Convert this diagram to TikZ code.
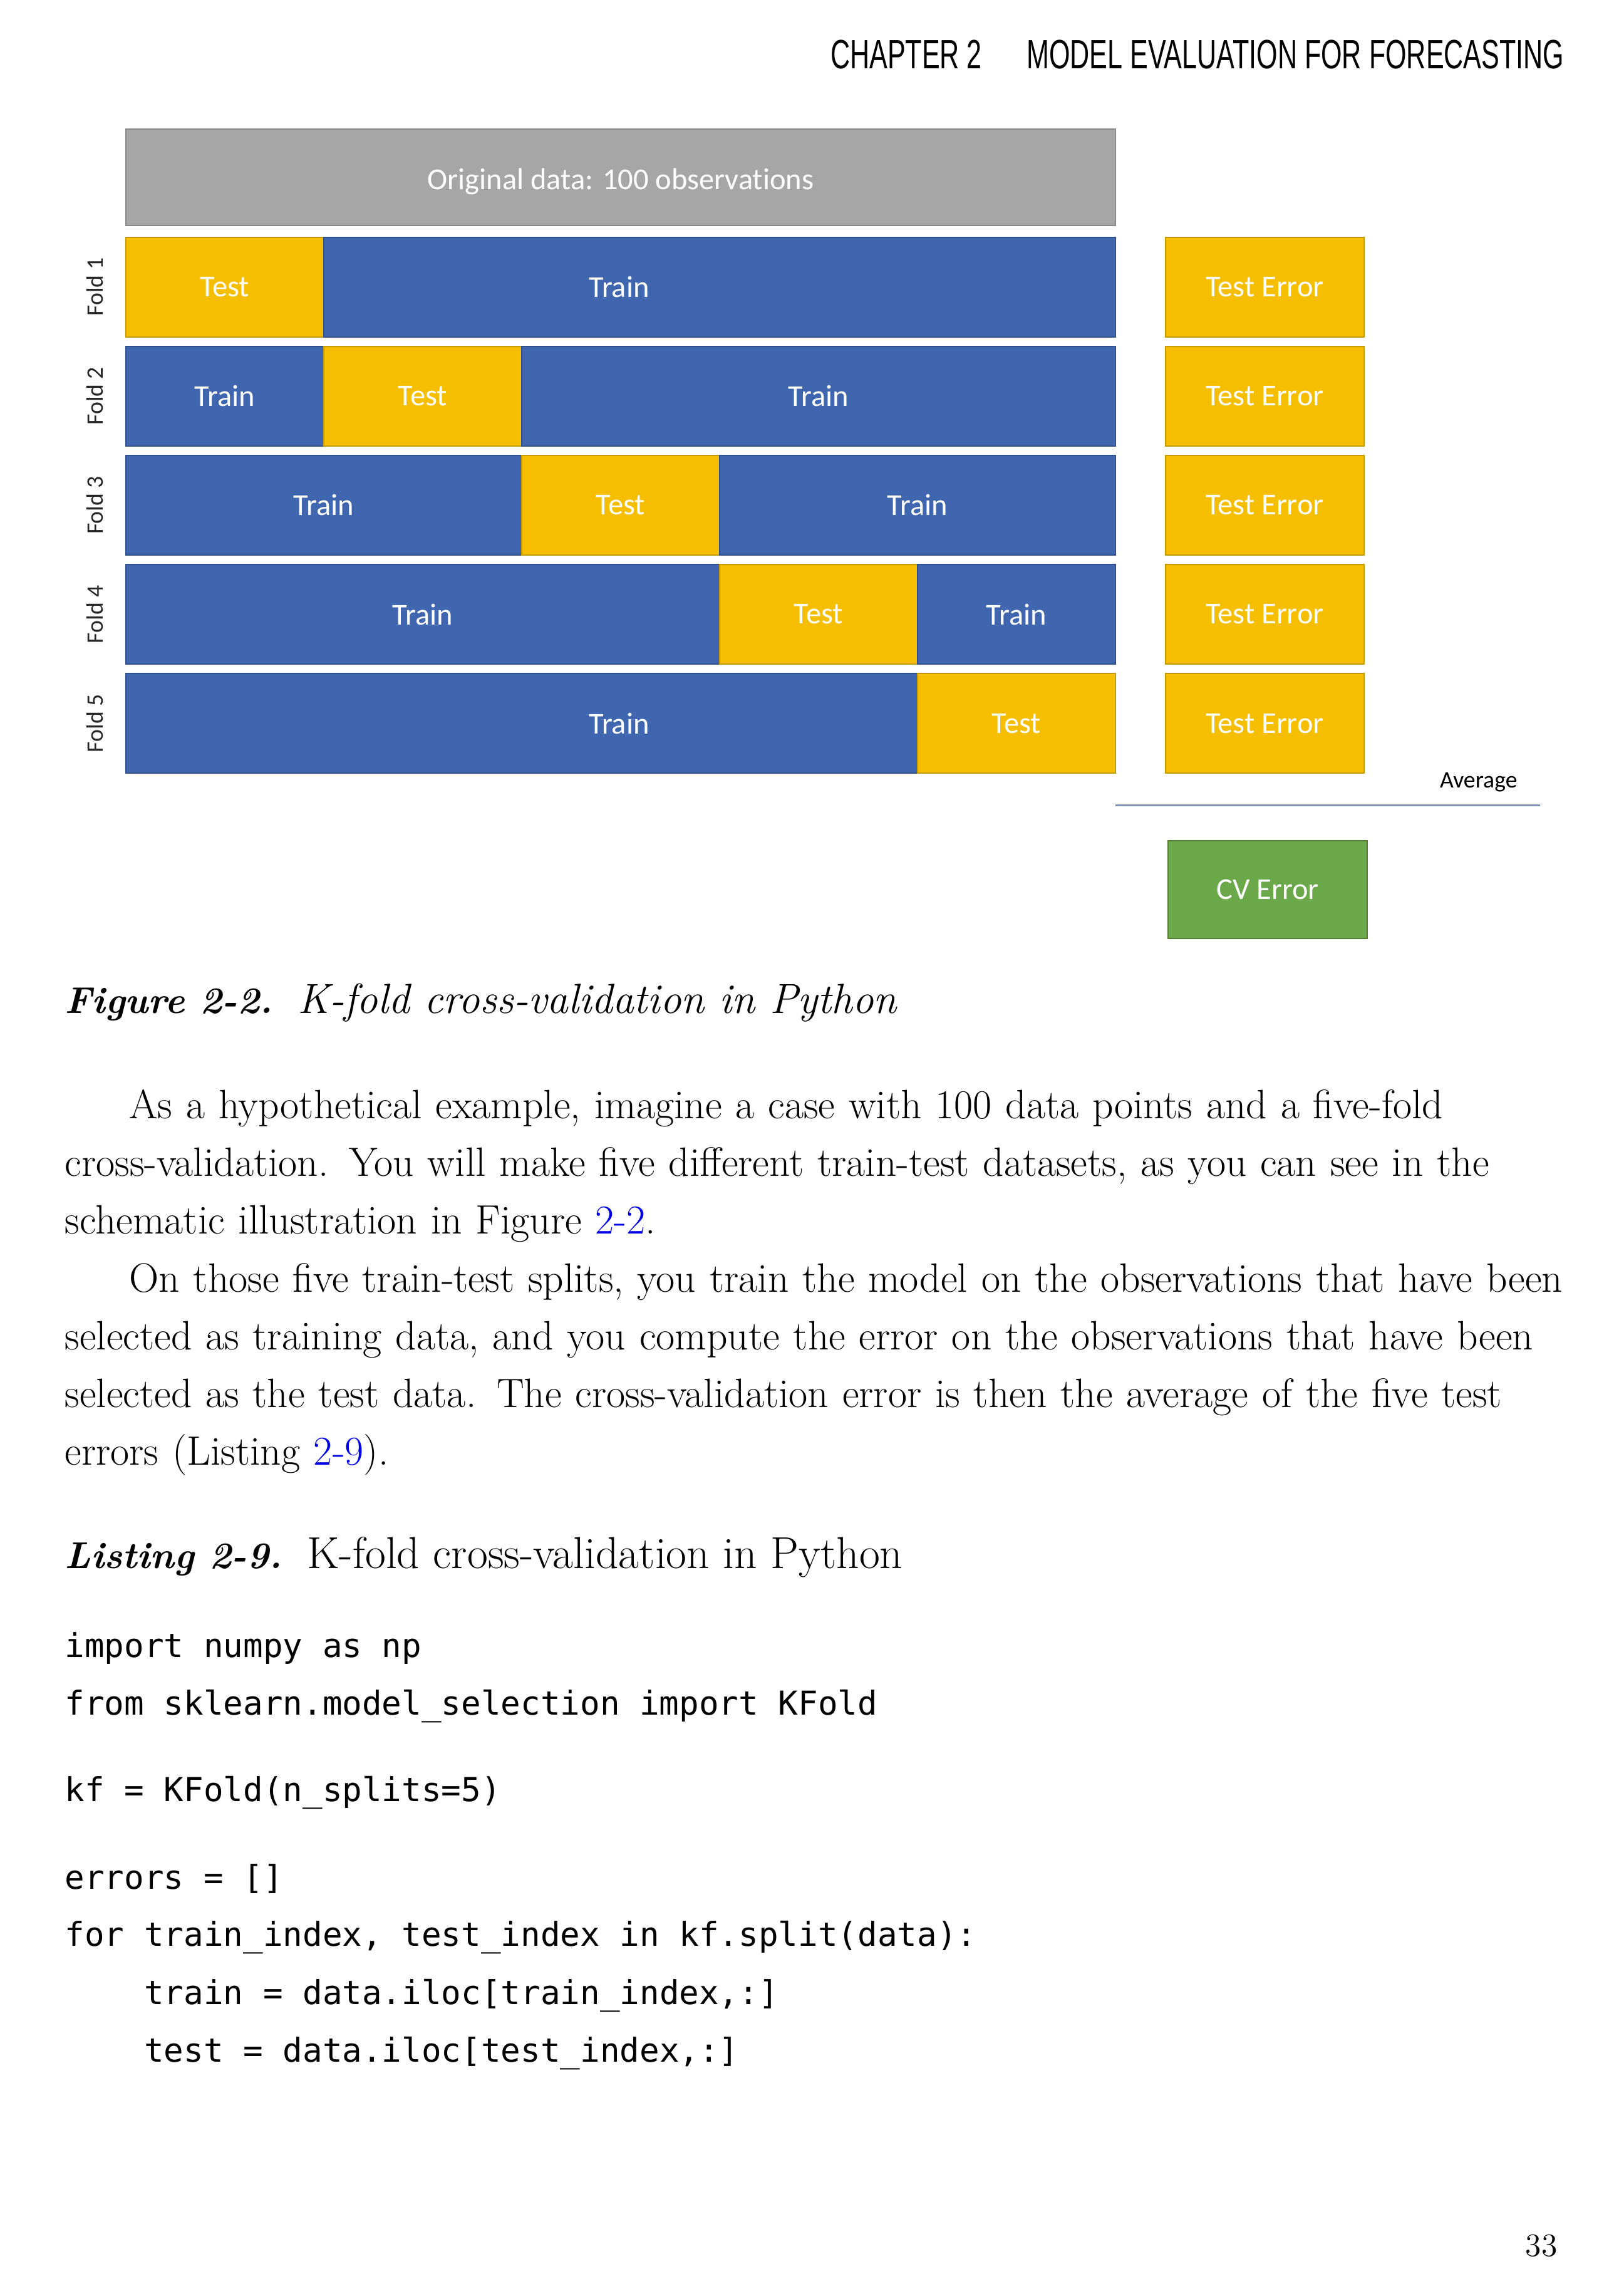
\documentclass[tikz,border=0pt]{standalone}
\usepackage{fontspec}
\newfontfamily\calibri[Ligatures=CommonOff]{Carlito}
\newfontfamily\headfont[FakeStretch=0.66]{Liberation Sans}
\newfontfamily\codefont{DejaVu Sans Mono}
\usetikzlibrary{positioning}
\definecolor{trainblue}{HTML}{3F66AE}
\definecolor{trainedge}{HTML}{2F528F}
\definecolor{testgold}{HTML}{F5BE00}
\definecolor{testedge}{HTML}{C49A00}
\definecolor{datagray}{HTML}{A6A6A6}
\definecolor{dataedge}{HTML}{8A8A8A}
\definecolor{cvgreen}{HTML}{6AA84A}
\definecolor{cvedge}{HTML}{507E32}
\definecolor{avgline}{HTML}{7F91B5}
\definecolor{refblue}{HTML}{0000E6}
\newcommand\capbi[1]{{\fontsize{14.5}{18}\selectfont\bfseries\itshape #1}\hspace{0.34cm}}

\begin{document}
\begin{tikzpicture}[x=0.02cm,y=-0.02cm,
  cell/.style={anchor=north west,inner sep=0pt,outer sep=0pt,minimum height=1.36cm,
    line width=0.5pt,text=white,font=\calibri\fontsize{11.8}{14}\selectfont},
  trainbox/.style={cell,fill=trainblue,draw=trainedge,minimum width=#1*2.704cm},
  trainbox/.default=1,
  testbox/.style={cell,fill=testgold,draw=testedge,minimum width=2.704cm},
  errbox/.style={testbox,minimum width=2.72cm},
  cvbox/.style={cell,fill=cvgreen,draw=cvedge,minimum width=2.72cm,minimum height=1.34cm},
  databox/.style={cell,fill=datagray,draw=dataedge,minimum width=13.52cm,minimum height=1.32cm},
  celltxt/.style={text=white,inner sep=0pt,font=\calibri\fontsize{11.8}{14}\selectfont},
  foldlbl/.style={rotate=90,inner sep=0pt,text=black!85,font=\calibri\fontsize{9.2}{11}\selectfont},
  txt/.style={anchor=base west,inner sep=0pt},
  body/.style={txt,text width=21.5cm,align=left,font=\fontsize{15.95}{22.4}\selectfont},
  code/.style={txt,font=\codefont\fontsize{12.8}{15}\selectfont}]
\useasboundingbox (0,0) rectangle (1109,1568);

\node[txt,font=\headfont\fontsize{15.9}{18}\selectfont] (chap) at (567,47) {CHAPTER 2};
\node[txt,font=\headfont\fontsize{15.9}{18}\selectfont] (chaptitle) at (701,47) {MODEL EVALUATION FOR FORECASTING};

\node[databox,label={[celltxt,yshift=-0.06cm]center:Original data: 100 observations}] (data) at (86,88) {};

\node[testbox] (f1a) at (86,162) {Test};
\node[trainbox=4,right=0pt of f1a,label={[celltxt,xshift=-1.372cm]center:Train}] (f1b) {};

\node[trainbox] (f2a) at (86,236.5) {Train};
\node[testbox,right=0pt of f2a] (f2b) {Test};
\node[trainbox=3,right=0pt of f2b] (f2c) {Train};

\node[trainbox=2] (f3a) at (86,311) {Train};
\node[testbox,right=0pt of f3a] (f3b) {Test};
\node[trainbox=2,right=0pt of f3b] (f3c) {Train};

\node[trainbox=3] (f4a) at (86,385.5) {Train};
\node[testbox,right=0pt of f4a] (f4b) {Test};
\node[trainbox,right=0pt of f4b] (f4c) {Train};

\node[trainbox=4,label={[celltxt,xshift=1.332cm]center:Train}] (f5a) at (86,460) {};
\node[testbox,right=0pt of f5a] (f5b) {Test};

\foreach \r/\t in {1/162,2/236.5,3/311,4/385.5,5/460}{
  \node[foldlbl] (fold\r) at (65,\t+34) {Fold \r};
  \node[errbox] (err\r) at (796,\t) {Test Error};
}

\node[font=\calibri\fontsize{9.2}{11}\selectfont,inner sep=0pt] (avg) at (1010,534) {Average};
\coordinate (avgL) at (762,550);
\coordinate (avgR) at (1052,550);
\draw[avgline,line width=0.8pt] (avgL) -- (avgR);
\node[cvbox] (cv) at (798,574) {CV Error};

\node[txt] (figcap) at (44,692)
  {\capbi{Figure 2-2.}{\fontsize{16.4}{18}\selectfont\itshape K-fold cross-validation in Python}};

\node[body] (para1) at (44,764) {\hspace*{0.88cm}As a hypothetical example, imagine a case with 100 data points and a five-fold\\
cross-validation. You will make five different train-test datasets, as you can see in the\\
schematic illustration in Figure~\textcolor{refblue}{2-2}.};
\node[body] (para2) at (44,882.5) {\hspace*{0.88cm}On those five train-test splits, you train the model on the observations that have been\\
selected as training data, and you compute the error on the observations that have been\\
selected as the test data. The cross-validation error is then the average of the five test\\
errors (Listing~\textcolor{refblue}{2-9}).};

\node[txt] (lstcap) at (44,1071)
  {\capbi{Listing 2-9.}{\fontsize{17.4}{18}\selectfont K-fold cross-validation in Python}};

\node[code] (code1) at (44,1132) {import numpy as np};
\node[code] (code2) at (44,1171) {from sklearn.model\_selection import KFold};
\node[code] (code3) at (44,1230) {kf = KFold(n\_splits=5)};
\node[code] (code4) at (44,1290) {errors = []};
\node[code] (code5) at (44,1329) {for train\_index, test\_index in kf.split(data):};
\node[code] (code6) at (44,1369) {\hphantom{abcd}train = data.iloc[train\_index,:]};
\node[code] (code7) at (44,1408) {\hphantom{abcd}test = data.iloc[test\_index,:]};

\node[anchor=base,inner sep=0pt,font=\fontsize{12.6}{15}\selectfont] (pagenum) at (1053,1541) {33};
\end{tikzpicture}
\end{document}
